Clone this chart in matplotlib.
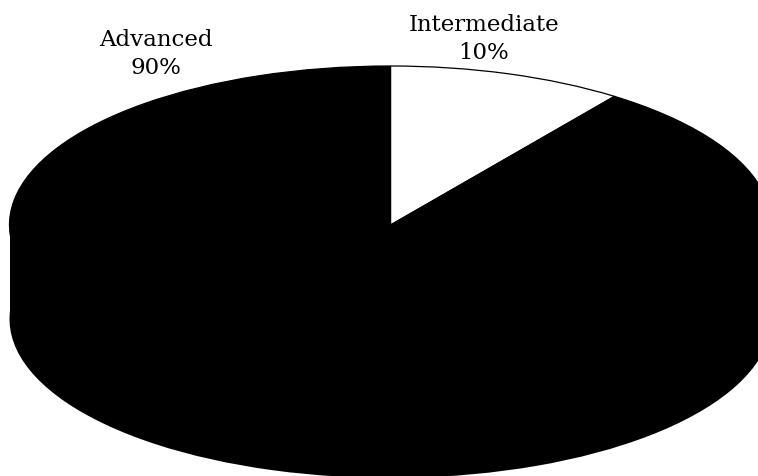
import matplotlib
matplotlib.use("Agg")
import matplotlib.pyplot as plt
from matplotlib.patches import Rectangle

# --------------------------------------------------
# Data
# --------------------------------------------------

levels = ["Intermediate", "Advanced"]
shares = [10, 90]

# --------------------------------------------------
# Layout (pie centre and radii in pixels)
# --------------------------------------------------

width_px, height_px = 758, 476
center_x, center_y = 390.5, 225
radius_x, radius_y = 381, 159
depth = 94 / radius_y

fig = plt.figure(figsize=(width_px / 100, height_px / 100), dpi=100)
ax = fig.add_axes([0, 0, 1, 1])

# side of the "3D" pie: a black copy lower down, joined by a rectangle
ax.pie(shares, colors=["black", "black"], startangle=90, counterclock=False,
       center=(0, -depth), radius=1)
ax.add_patch(Rectangle((-1, -depth), 2, depth, color="black", lw=0))

# top face
ax.pie(shares, colors=["white", "black"], startangle=90, counterclock=False,
       center=(0, 0), radius=1,
       wedgeprops={"edgecolor": "black", "linewidth": 0.9})

ax.set_aspect("auto")
ax.set_xlim(-center_x / radius_x, (width_px - center_x) / radius_x)
ax.set_ylim((center_y - height_px) / radius_y, center_y / radius_y)
ax.axis("off")

# --------------------------------------------------
# Labels
# --------------------------------------------------

label_pos = {"Intermediate": (484, 39), "Advanced": (156, 54)}

for name, share in zip(levels, shares):
    px, py = label_pos[name]
    ax.text((px - center_x) / radius_x, (center_y - py) / radius_y,
            f"{name}\n{share}%", ha="center", va="center",
            family="DejaVu Serif", fontsize=16.5, color="black", linespacing=1.38)

fig.savefig("out.png", dpi=100)
